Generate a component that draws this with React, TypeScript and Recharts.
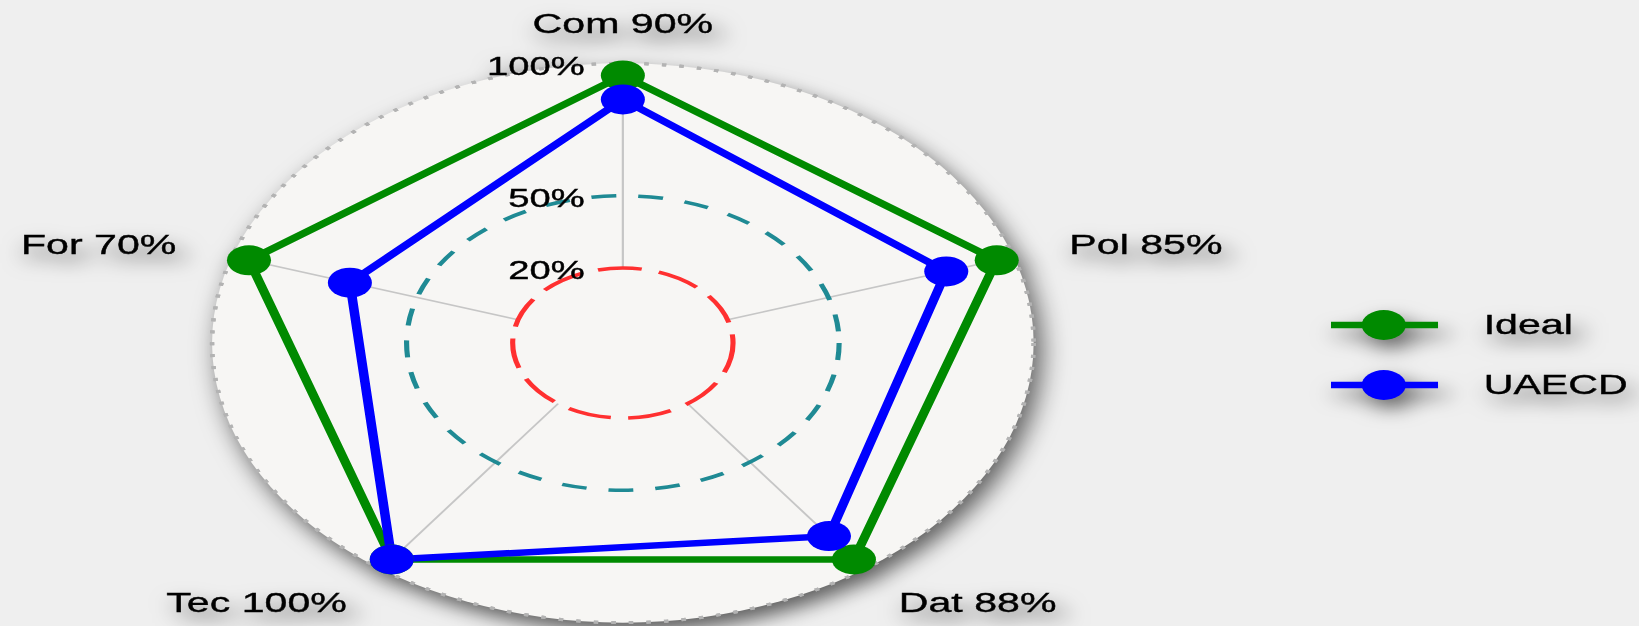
import React from 'react';
import { RadarChart, Radar, PolarGrid, PolarAngleAxis, PolarRadiusAxis, Legend } from 'recharts';

// axes go clockwise from the top
const axes = ['Com', 'Pol', 'Dat', 'Tec', 'For'];
const axisLabels = ['Com 90%', 'Pol 85%', 'Dat 88%', 'Tec 100%', 'For 70%'];
const idealValues = [100, 100, 100, 100, 100];
const uaecdValues = [90, 85, 88, 100, 70];
const radiusTicks = [20, 50, 100];
const radiusTickLabels = ['20%', '50%', '100%'];

const GREEN = '#008a00';
const BLUE = '#0000ff';
const FONT = '"Liberation Sans", Arial, sans-serif';

const data = axes.map((a, i) => ({ axis: a, Ideal: idealValues[i], UAECD: uaecdValues[i] }));

// the original picture is stretched sideways, so draw it round and scale x
const STRETCH = 1.469;
const W = 1639;
const H = 626;
const INNER_W = Math.round(W / STRETCH);
const CX = 424;
const CY = 343;
const R_MIN = 75;
const R_MAX = 267.6;
const DOMAIN: [number, number] = [20, 100];
const ringR = (v: number) => R_MIN + ((v - DOMAIN[0]) / (DOMAIN[1] - DOMAIN[0])) * (R_MAX - R_MIN);

const AngleTick = (props: any) => {
  const { x, y, textAnchor, index } = props;
  return (
    <text
      x={x}
      y={y}
      textAnchor={textAnchor}
      dominantBaseline="central"
      fontSize={28}
      fontFamily={FONT}
      fill="#000"
      stroke="#000"
      strokeWidth={0.4}
    >
      {axisLabels[index]}
    </text>
  );
};

const RadiusTick = (props: any) => {
  const { x, y, payload } = props;
  const i = radiusTicks.indexOf(payload.value);
  if (i < 0) return null;
  const dy = payload.value === 100 ? -10 : 2;
  return (
    <text
      x={x - 26}
      y={y + dy}
      textAnchor="end"
      dominantBaseline="central"
      fontSize={26}
      fontFamily={FONT}
      fill="#000"
      stroke="#000"
      strokeWidth={0.4}
    >
      {radiusTickLabels[i]}
    </text>
  );
};

const LegendContent = (props: any) => {
  const items = (props.payload || []).map((p: any) => ({ name: p.value, color: p.color }));
  return (
    <div style={{ fontFamily: FONT, fontSize: 28, color: '#000', WebkitTextStroke: '0.4px #000' }}>
      {items.map((s: any) => (
        <div key={s.name} style={{ display: 'flex', alignItems: 'center', height: 60 }}>
          <svg width={73} height={32} style={{ display: 'block' }}>
            <line x1={0} x2={73} y1={16} y2={16} stroke={s.color} strokeWidth={6.5} />
            <circle cx={36} cy={16} r={15} fill={s.color} />
          </svg>
          <span style={{ marginLeft: 31 }}>{s.name}</span>
        </div>
      ))}
    </div>
  );
};

export default function App() {
  return (
    <div style={{ width: W, height: H, background: '#efefef', overflow: 'hidden', position: 'relative' }}>
      <style>{'body{margin:0}'}</style>
      <div
        style={{
          width: INNER_W,
          height: H,
          transform: `scaleX(${STRETCH})`,
          transformOrigin: '0 0',
          filter: 'drop-shadow(5px 9px 9px rgba(0,0,0,0.6))',
        }}
      >
        <RadarChart
          width={INNER_W}
          height={H}
          data={data}
          cx={CX}
          cy={CY}
          innerRadius={R_MIN}
          outerRadius={R_MAX}
          margin={{ top: 0, right: 0, bottom: 0, left: 0 }}
        >
          <PolarGrid
            gridType="circle"
            radialLines={false}
            polarRadius={[ringR(105)]}
            stroke="#b3b3b3"
            strokeWidth={3}
            strokeDasharray="3 9"
            fill="#f7f6f4"
          />
          <PolarGrid gridType="circle" polarRadius={[]} stroke="#c6c6c6" strokeWidth={1.5} />
          <PolarGrid
            gridType="circle"
            radialLines={false}
            polarRadius={[ringR(20)]}
            stroke="#ff3030"
            strokeWidth={3.5}
            strokeDasharray="30 12"
          />
          <PolarGrid
            gridType="circle"
            radialLines={false}
            polarRadius={[ringR(50)]}
            stroke="#1f8a94"
            strokeWidth={3.5}
            strokeDasharray="17 15"
          />
          <PolarAngleAxis dataKey="axis" tick={<AngleTick />} tickSize={52} tickLine={false} axisLine={false} />
          <PolarRadiusAxis
            angle={90}
            type="number"
            domain={DOMAIN}
            ticks={radiusTicks as any}
            tick={<RadiusTick />}
            axisLine={false}
            tickLine={false}
          />
          <Radar
            name="Ideal"
            dataKey="Ideal"
            stroke={GREEN}
            strokeWidth={6.5}
            fill="none"
            fillOpacity={0}
            dot={{ r: 15, fill: GREEN, fillOpacity: 1, strokeWidth: 0 }}
            isAnimationActive={false}
          />
          <Radar
            name="UAECD"
            dataKey="UAECD"
            stroke={BLUE}
            strokeWidth={6.5}
            fill="none"
            fillOpacity={0}
            dot={{ r: 15, fill: BLUE, fillOpacity: 1, strokeWidth: 0 }}
            isAnimationActive={false}
          />
          <Legend content={<LegendContent />} wrapperStyle={{ left: 906, top: 295, width: 210 }} />
        </RadarChart>
      </div>
    </div>
  );
}
